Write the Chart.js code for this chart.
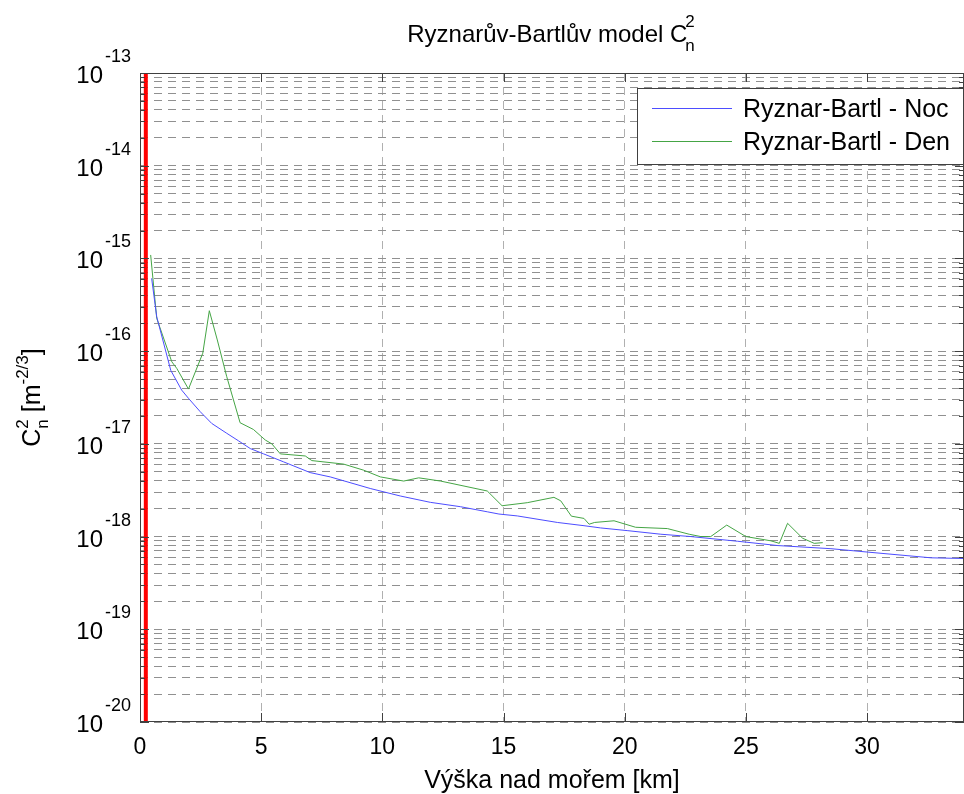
<!DOCTYPE html>
<html lang="cs">
<head>
<meta charset="utf-8">
<title>Ryznarův-Bartlův model</title>
<script src="https://cdn.jsdelivr.net/npm/chart.js@4.4.1/dist/chart.umd.min.js"></script>
<style>
    html, body { margin: 0; padding: 0; background: #fff; }
    #wrap { width: 964px; height: 794px; }
</style>
</head>
<body>
<div id="wrap"><canvas id="chart" width="964" height="794"></canvas></div>
<script>
// ============================================
// DATA - výška [km] a C_n^2 [m^-2/3]
// ============================================

const nocHeights = [0.48, 0.69, 1.27, 1.72, 2.0, 2.48, 2.96, 3.58, 4.06, 4.55, 5.1, 5.92, 7.02, 7.85, 9.5,
    10.74, 11.98, 13.22, 14.33, 14.81, 15.57, 17.22, 18.32, 19.0, 20.1, 21.49, 22.73, 24.66, 26.31,
    28.51, 30.03, 32.64, 34.0];
const nocValues = [6.1e-16, 2.35e-16, 6.2e-17, 3.8e-17, 3.1e-17, 2.23e-17, 1.66e-17, 1.3e-17, 1.08e-17,
    8.9e-18, 7.8e-18, 6.4e-18, 4.9e-18, 4.4e-18, 3.3e-18, 2.74e-18, 2.34e-18, 2.1e-18, 1.85e-18,
    1.75e-18, 1.67e-18, 1.42e-18, 1.31e-18, 1.24e-18, 1.16e-18, 1.06e-18, 1.0e-18, 8.9e-19, 8.0e-19,
    7.4e-19, 6.8e-19, 5.9e-19, 5.8e-19];

const denHeights = [0.44, 0.69, 1.31, 1.52, 2.0, 2.59, 2.86, 3.19, 3.58, 4.13, 4.68, 5.17, 5.44, 5.79,
    6.82, 7.09, 8.4, 9.23, 9.92, 10.88, 11.5, 12.4, 14.33, 14.94, 15.98, 17.08, 17.36, 17.8, 18.32,
    18.53, 18.76, 19.56, 20.45, 21.76, 22.66, 23.14, 23.55, 24.21, 25.0, 26.03, 26.38, 26.72, 27.34,
    27.82, 28.17];
const denValues = [1.09e-15, 2.26e-16, 7.7e-17, 6.5e-17, 3.9e-17, 9.5e-17, 2.73e-16, 1.32e-16, 5.3e-17,
    1.69e-17, 1.43e-17, 1.1e-17, 1.0e-17, 7.8e-18, 7.4e-18, 6.6e-18, 6.05e-18, 5.2e-18, 4.4e-18,
    3.97e-18, 4.3e-18, 3.97e-18, 3.1e-18, 2.15e-18, 2.32e-18, 2.65e-18, 2.43e-18, 1.66e-18, 1.57e-18,
    1.36e-18, 1.42e-18, 1.48e-18, 1.26e-18, 1.22e-18, 1.06e-18, 1.0e-18, 1.0e-18, 1.33e-18, 1.0e-18,
    9.0e-19, 8.45e-19, 1.39e-18, 9.6e-19, 8.45e-19, 8.6e-19];

// Nadmořská výška stanice - červená svislice
const stationHeights = [0.24, 0.24];
const stationValues = [1e-20, 1e-13];

// Popisky os
const xTicks = [0, 5, 10, 15, 20, 25, 30];
const yDecades = [-20, -19, -18, -17, -16, -15, -14, -13];

const FONT = "'Liberation Sans', Arial, sans-serif";

function toPoints(xs, ys) {
    return xs.map((x, i) => ({ x, y: ys[i] }));
}

// mřížka: 1..9 x 10^n v každé dekádě
function yGridValues() {
    const vals = [];
    yDecades.slice(0, -1).forEach(e => {
        for (let m = 1; m <= 9; m++) vals.push(m * Math.pow(10, e));
    });
    vals.push(Math.pow(10, yDecades[yDecades.length - 1]));
    return vals;
}

function isDecade(v) {
    const l = Math.log10(v);
    return Math.abs(l - Math.round(l)) < 1e-9;
}

/**
 * Text s horními / dolními indexy
 */
function drawRich(ctx, parts, x, y, align) {
    const widths = parts.map(p => {
        ctx.font = `${p.size}px ${FONT}`;
        if (p.stack) {
            return Math.max(ctx.measureText(p.stack[0]).width, ctx.measureText(p.stack[1]).width);
        }
        return ctx.measureText(p.text).width;
    });
    const total = widths.reduce((a, b) => a + b, 0);
    let cx = align === 'center' ? x - total / 2 : (align === 'right' ? x - total : x);
    ctx.textAlign = 'left';
    ctx.textBaseline = 'alphabetic';
    parts.forEach((p, i) => {
        ctx.font = `${p.size}px ${FONT}`;
        if (p.stack) {
            ctx.fillText(p.stack[0], cx + (p.dx || 0), y - p.up);
            ctx.fillText(p.stack[1], cx + (p.dx || 0), y + p.down);
        } else {
            ctx.fillText(p.text, cx, y + (p.dy || 0));
        }
        cx += widths[i] + (p.dx || 0);
    });
}

const matlabLook = {
    id: 'matlabLook',
    beforeDraw(chart) {
        const ctx = chart.ctx;
        ctx.save();
        ctx.fillStyle = '#fff';
        ctx.fillRect(0, 0, chart.width, chart.height);
        ctx.restore();
    },
    afterDraw(chart) {
        const ctx = chart.ctx;
        const area = chart.chartArea;
        const xs = chart.scales.x;
        const ys = chart.scales.y;
        ctx.save();

        // rámeček os
        ctx.strokeStyle = '#404040';
        ctx.lineWidth = 1;
        ctx.setLineDash([]);
        ctx.strokeRect(area.left + 0.5, area.top + 0.5, area.right - area.left - 1, area.bottom - area.top - 1);

        // tiky dovnitř
        ctx.beginPath();
        ys.ticks.forEach(t => {
            const py = Math.round(ys.getPixelForValue(t.value)) + 0.5;
            const len = isDecade(t.value) ? 9 : 5;
            ctx.moveTo(area.left, py);
            ctx.lineTo(area.left + len, py);
            ctx.moveTo(area.right, py);
            ctx.lineTo(area.right - len, py);
        });
        xTicks.forEach(v => {
            const px = Math.round(xs.getPixelForValue(v)) + 0.5;
            ctx.moveTo(px, area.bottom);
            ctx.lineTo(px, area.bottom - 9);
            ctx.moveTo(px, area.top);
            ctx.lineTo(px, area.top + 9);
        });
        ctx.stroke();

        ctx.fillStyle = '#000';

        // popisky osy y: 10^n
        yDecades.forEach(e => {
            const py = ys.getPixelForValue(Math.pow(10, e));
            ctx.font = `18px ${FONT}`;
            const supW = ctx.measureText(String(e)).width;
            ctx.textAlign = 'left';
            ctx.textBaseline = 'alphabetic';
            ctx.fillText(String(e), 131 - supW, py - 11);
            ctx.font = `24px ${FONT}`;
            ctx.textAlign = 'right';
            ctx.fillText('10', 129 - supW, py + 10);
        });

        // nadpis
        drawRich(ctx, [
            { text: 'Ryznarův-Bartlův model C', size: 24 },
            { stack: ['2', 'n'], size: 17, up: 15, down: 9, dx: -2 }
        ], (area.left + area.right) / 2, 42, 'center');

        // název osy x
        ctx.font = `25px ${FONT}`;
        ctx.textAlign = 'center';
        ctx.textBaseline = 'alphabetic';
        ctx.fillText('Výška nad mořem [km]', (area.left + area.right) / 2, 788);

        // název osy y
        ctx.save();
        ctx.translate(40, (area.top + area.bottom) / 2);
        ctx.rotate(-Math.PI / 2);
        drawRich(ctx, [
            { text: 'C', size: 25 },
            { stack: ['2', 'n'], size: 17, up: 12, down: 8 },
            { text: ' [m', size: 25 },
            { text: '-2/3', size: 17, dy: -12 },
            { text: ']', size: 25 }
        ], 0, 0, 'center');
        ctx.restore();

        // legenda
        const lx = 637, ly = 88, lw = 326, lh = 76;
        ctx.fillStyle = '#fff';
        ctx.fillRect(lx, ly, lw, lh);
        ctx.strokeStyle = '#404040';
        ctx.strokeRect(lx + 0.5, ly + 0.5, lw, lh);
        chart.data.datasets.slice(0, 2).forEach((ds, i) => {
            const yy = 108 + i * 33;
            ctx.strokeStyle = ds.borderColor;
            ctx.lineWidth = 1;
            ctx.beginPath();
            ctx.moveTo(652, yy + 0.5);
            ctx.lineTo(732, yy + 0.5);
            ctx.stroke();
            ctx.fillStyle = '#000';
            ctx.font = `25px ${FONT}`;
            ctx.textAlign = 'left';
            ctx.textBaseline = 'alphabetic';
            ctx.fillText(ds.label, 743, yy + 9);
        });

        ctx.restore();
    }
};

new Chart(document.getElementById('chart'), {
    type: 'line',
    data: {
        datasets: [{
            label: 'Ryznar-Bartl - Noc',
            data: toPoints(nocHeights, nocValues),
            borderColor: '#4d4dff',
            borderWidth: 1,
            pointRadius: 0,
            fill: false
        }, {
            label: 'Ryznar-Bartl - Den',
            data: toPoints(denHeights, denValues),
            borderColor: '#45a545',
            borderWidth: 1,
            pointRadius: 0,
            fill: false
        }, {
            label: 'stanice',
            data: toPoints(stationHeights, stationValues),
            borderColor: '#ff0000',
            borderWidth: 4,
            pointRadius: 0,
            fill: false
        }]
    },
    options: {
        responsive: false,
        animation: false,
        layout: { padding: { top: 73, left: 0, right: 0, bottom: 0 } },
        plugins: {
            legend: { display: false },
            tooltip: { enabled: false }
        },
        scales: {
            x: {
                type: 'linear',
                min: 0,
                max: 34,
                afterBuildTicks: scale => {
                    scale.ticks = xTicks.map(v => ({ value: v }));
                },
                afterFit: scale => { scale.height = 72; },
                grid: { color: '#b0b0b0', lineWidth: 1, drawTicks: false },
                border: { display: false, dash: [8, 6] },
                ticks: {
                    autoSkip: false,
                    maxRotation: 0,
                    padding: 12,
                    color: '#000',
                    font: { family: FONT, size: 23 }
                }
            },
            y: {
                type: 'logarithmic',
                min: 1e-20,
                max: 1e-13,
                afterBuildTicks: scale => {
                    scale.ticks = yGridValues().map(v => ({ value: v }));
                },
                afterFit: scale => { scale.width = 140; },
                grid: { color: '#909090', lineWidth: 1, drawTicks: false },
                border: { display: false, dash: [8, 6] },
                ticks: { display: false, autoSkip: false }
            }
        }
    },
    plugins: [matlabLook]
});
</script>
</body>
</html>
